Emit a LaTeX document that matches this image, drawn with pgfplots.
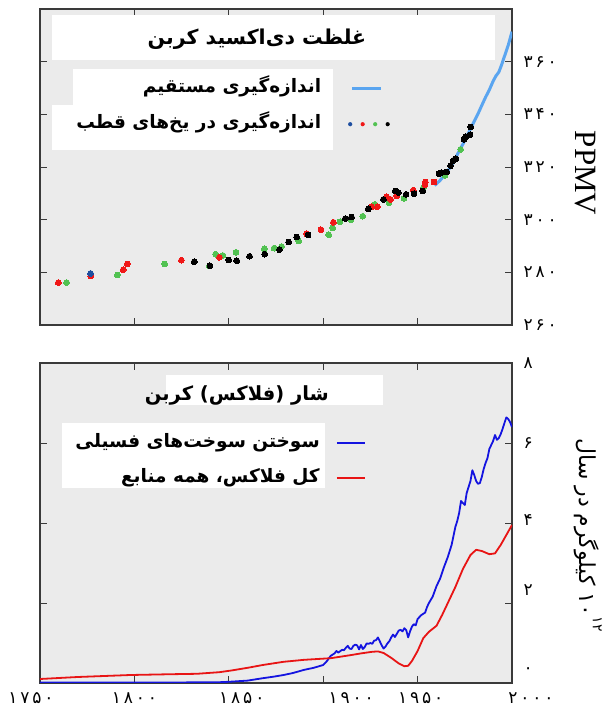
\documentclass[border=0pt]{standalone}
\usepackage{pgfplots}
\pgfplotsset{compat=1.18}
\usepackage{fontspec}
\setmainfont{Liberation Serif}
\TeXXeTstate=1
\newfontfamily\fa[Script=Arabic]{DejaVu Sans}
\newfontfamily\fadig[Script=Arabic, LetterSpace=17]{DejaVu Sans}
\definecolor{bg}{HTML}{EBEBEB}
\definecolor{frame}{HTML}{3A3A3A}
\definecolor{mlblue}{HTML}{5AA5F0}
\definecolor{icblue}{HTML}{1F4FA0}
\definecolor{icred}{HTML}{F01818}
\definecolor{icgreen}{HTML}{52C252}
\definecolor{ffblue}{HTML}{1414E0}
\definecolor{totred}{HTML}{E81414}
% shifted tick labels (as in the reference)
\newcommand\xs[2]{\makebox[0pt]{\kern#1\kern#1#2}}
\newcommand\ys[2]{\raisebox{\dimexpr#1-5.5pt\relax}[0pt][0pt]{#2}}

\pgfplotstableread{
year ppm
1776.8 279.6
}\iceblue
\pgfplotstableread{
year ppm
1759.7 276.1
1776.8 278.6
1794.1 281.0
1796.3 283.2
1824.9 284.6
1845.0 285.7
1891.2 294.6
1898.8 296.2
1905.4 299.0
1925.7 304.9
1928.7 304.9
1933.6 308.7
1935.7 307.7
1938.9 309.0
1947.7 311.2
1954.1 314.3
1953.9 313.3
1958.7 314.3
}\icered
\pgfplotstableread{
year ppm
1764.1 276.1
1791.0 279.0
1816.0 283.2
1839.7 282.4
1843.0 286.9
1846.9 286.4
1853.8 287.6
1868.8 288.9
1874.0 289.2
1878.0 289.8
1887.0 291.9
1902.9 294.3
1905.0 296.9
1908.9 299.2
1914.7 300.0
1920.9 301.3
1927.4 305.8
1934.9 306.4
1942.8 308.1
1953.0 312.1
1964.5 316.8
1972.8 326.7
}\icegreen
\pgfplotstableread{
year ppm
1831.7 284.0
1840.0 282.5
1849.9 284.7
1854.2 284.4
1861.0 286.1
1869.0 286.9
1876.8 288.6
1881.7 291.5
1886.0 293.4
1892.0 294.2
1911.7 300.4
1915.0 301.0
1923.9 304.1
1931.9 307.7
1938.2 310.9
1939.8 310.3
1943.9 309.6
1948.1 309.9
1952.7 310.9
1961.3 317.5
1962.7 317.9
1965.4 318.1
1967.5 320.5
1968.9 322.5
1970.3 323.2
1974.6 330.5
1975.5 331.5
1977.8 332.2
1978.1 335.2
}\iceblack
\pgfplotstableread{
year ppm
1959.0 313.0
1960.0 313.6
1962.0 315.0
1964.0 316.7
1966.0 318.6
1968.0 320.6
1970.0 323.3
1972.0 326.0
1974.0 328.7
1976.0 331.5
1978.0 334.4
1980.0 337.4
1982.0 340.2
1984.0 343.4
1986.0 346.5
1988.0 349.3
1990.0 352.6
1991.5 354.6
1993.0 356.0
1994.5 358.8
1996.0 362.0
1998.0 366.2
2000.0 371.4
}\mauna
\pgfplotstableread{
year v
1750 0.01
1780 0.01
1800 0.01
1820 0.01
1835 0.02
1845 0.02
1850 0.03
1860 0.06
1868 0.12
1874 0.16
1879 0.20
1884 0.25
1890 0.33
1895 0.38
1900 0.45
1902 0.55
1904 0.68
1906 0.74
1907 0.80
1908 0.76
1910 0.83
1911 0.82
1912 0.88
1913 0.93
1914 0.86
1915 0.85
1916 0.93
1917 0.96
1918 0.94
1919 0.84
1920 0.95
1921 0.85
1922 0.90
1923 0.99
1924 0.98
1925 1.00
1926 0.98
1927 1.06
1928 1.07
1929 1.14
1930 1.04
1931 0.94
1932 0.86
1933 0.91
1934 0.99
1935 1.04
1936 1.14
1937 1.21
1938 1.15
1939 1.23
1940 1.31
1941 1.33
1942 1.29
1943 1.37
1944 1.32
1945 1.14
1946 1.29
1947 1.41
1948 1.47
1949 1.44
1950 1.60
1952 1.70
1954 1.76
1955 1.90
1956 2.00
1958 2.16
1960 2.42
1962 2.62
1964 2.90
1966 3.15
1968 3.45
1970 3.90
1971 4.05
1972 4.25
1973 4.55
1974 4.50
1975 4.45
1976 4.75
1977 4.90
1978 5.05
1979 5.32
1980 5.20
1981 5.05
1982 4.98
1983 5.00
1984 5.15
1985 5.35
1986 5.50
1987 5.62
1988 5.85
1989 5.95
1990 6.05
1991 6.20
1992 6.08
1993 6.12
1994 6.22
1995 6.35
1996 6.50
1997 6.64
1998 6.60
1999 6.52
2000 6.40
}\fossil
\pgfplotstableread{
year v
1750 0.10
1770 0.15
1798 0.20
1820 0.22
1833 0.23
1845 0.27
1851 0.31
1860 0.38
1868 0.45
1879 0.53
1890 0.58
1904 0.62
1915 0.70
1920 0.74
1926 0.78
1929 0.79
1932 0.75
1936 0.63
1940 0.49
1943 0.42
1945 0.43
1947 0.55
1950 0.80
1953 1.12
1956 1.28
1960 1.43
1963 1.70
1966 2.00
1970 2.40
1974 2.85
1978 3.20
1981 3.33
1984 3.30
1988 3.22
1991 3.24
1994 3.45
1997 3.70
2000 3.95
}\total

\pgfplotsset{
  panel/.style={
    scale only axis, width=472pt,
    xmin=1750, xmax=2000,
    axis background/.style={fill=bg},
    axis line style={draw=frame, line width=1.3pt},
    tick style={draw=frame, line width=0.9pt},
    major tick length=7pt,
    tick align=inside,
    yticklabel pos=right,
    xtick pos=both, ytick pos=both,
    ticklabel style={font=\fadig\fontsize{17}{17}\selectfont, text=black},
    yticklabel style={xshift=8pt},
    xticklabel style={yshift=-6pt},
    clip=true,
  },
  icedot/.style={only marks, mark=*, mark size=2.9pt, forget plot,
    mark options={draw=#1, fill=#1, line width=0pt}},
}

\begin{document}
\begin{tikzpicture}
\useasboundingbox (-40pt,-24pt) rectangle (568pt,683pt);

% ---------------- top panel ----------------
\begin{axis}[panel,
  at={(0pt,358pt)}, anchor=south west, height=316pt,
  ymin=260, ymax=380,
  ytick={260,280,300,320,340,360},
  yticklabels={\ys{0pt}{۲۶۰},\ys{0pt}{۲۸۰},\ys{0pt}{۳۰۰},\ys{0pt}{۳۲۰},\ys{0pt}{۳۴۰},\ys{0pt}{۳۶۰}},
  xtick={1800,1850,1900,1950}, xticklabels={},
  legend plot pos=right,
  legend cell align=right,
  legend style={at={(rel axis cs:0.7415,0.7785)}, anchor=north east,
    draw=none, fill=none, inner sep=0pt,
    nodes={inner sep=0pt, text height=13pt, text depth=5pt},
    /tikz/column sep=26pt, /tikz/row sep=18pt,
    font=\fa\bfseries\fontsize{18.5}{18.5}\selectfont},
]
\addplot[mlblue, line width=3pt, line join=round,
  legend image code/.code={\path[draw=none] (0pt,0pt) -- (42pt,0pt); \draw[mlblue, line width=3pt] (5pt,0pt) -- (34pt,0pt);}]
  table[x=year,y=ppm]{\mauna};
\addlegendentry{\beginR اندازه^^^^200cگیری مستقیم\endR}
\addplot[icedot=icgreen] table[x=year,y=ppm]{\icegreen};
\addplot[icedot=icred] table[x=year,y=ppm]{\icered};
\addplot[icedot=icblue] table[x=year,y=ppm]{\iceblue};
\addplot[icedot=black] table[x=year,y=ppm]{\iceblack};
\addlegendimage{draw=none, legend image code/.code={
  \path[draw=none] (0pt,0pt) -- (42pt,0pt);
  \fill[icblue, draw=none] (3pt,0pt) circle (2.1pt);
  \fill[icred, draw=none] (15.5pt,0pt) circle (2.1pt);
  \fill[icgreen, draw=none] (28pt,0pt) circle (2.1pt);
  \fill[black, draw=none] (40.5pt,0pt) circle (2.1pt);}}
\addlegendentry{\beginR اندازه^^^^200cگیری در یخ^^^^200cهای قطب\endR}
% white boxes
\fill[white] (rel axis cs:0.0254,0.8386) rectangle (rel axis cs:0.9640,0.981);
\fill[white] (rel axis cs:0.0699,0.6962) rectangle (rel axis cs:0.6208,0.8101);
\fill[white] (rel axis cs:0.0254,0.5538) rectangle (rel axis cs:0.6208,0.6962);
\node[font=\fa\bfseries\fontsize{20.5}{20.5}\selectfont] at (rel axis cs:0.4597,0.905) {\beginR غلظت دی^^^^200cاکسید کربن\endR};
\end{axis}

% ---------------- bottom panel ----------------
\begin{axis}[panel,
  at={(0pt,0pt)}, anchor=south west, height=320pt,
  ymin=0, ymax=8,
  ytick={0,2,4,6,8},
  yticklabels={\ys{15pt}{۰},\ys{13pt}{۲},\ys{3pt}{۴},\ys{0pt}{۶},\ys{0pt}{۸}},
  xtick={1750,1800,1850,1900,1950,2000},
  xticklabels={\xs{-9pt}{۱۷۵۰},\xs{0pt}{۱۸۰۰},\xs{13pt}{۱۸۵۰},\xs{28pt}{۱۹۰۰},\xs{3pt}{۱۹۵۰},\xs{19pt}{۲۰۰۰}},
  legend plot pos=right,
  legend cell align=right,
  legend style={at={(rel axis cs:0.697,0.778)}, anchor=north east,
    draw=none, fill=none, inner sep=0pt,
    nodes={inner sep=0pt, text height=13pt, text depth=5pt},
    /tikz/column sep=13pt, /tikz/row sep=17pt,
    font=\fa\bfseries\fontsize{18.5}{18.5}\selectfont},
]
\addplot[ffblue, line width=1.8pt, line join=round,
  legend image code/.code={\path[draw=none] (0pt,0pt) -- (36pt,0pt); \draw[ffblue, line width=1.8pt] (4pt,0pt) -- (32pt,0pt);}]
  table[x=year,y=v]{\fossil};
\addlegendentry{\beginR سوختن سوخت^^^^200cهای فسیلی\endR}
\addplot[totred, line width=1.8pt, line join=round,
  legend image code/.code={\path[draw=none] (0pt,0pt) -- (36pt,0pt); \draw[totred, line width=1.8pt] (4pt,0pt) -- (32pt,0pt);}]
  table[x=year,y=v]{\total};
\addlegendentry{\beginR کل فلاکس، همه منابع\endR}
\fill[white] (rel axis cs:0.2669,0.8688) rectangle (rel axis cs:0.7267,0.9625);
\fill[white] (rel axis cs:0.0466,0.6094) rectangle (rel axis cs:0.6038,0.8125);
\node[font=\fa\bfseries\fontsize{19.5}{19.5}\selectfont] at (rel axis cs:0.417,0.90) {\beginR شار (فلاکس) کربن\endR};
\end{axis}

% axis labels
\node[rotate=-90, font=\fontsize{31}{31}\selectfont] at (545pt,510pt) {PPMV};
\node[rotate=-90, font=\fa\fontsize{22}{22}\selectfont] at (548pt,148pt)
  {\beginR\beginL ۱۰\raisebox{1.1ex}{\fontsize{14}{14}\selectfont ۱۲}\endL{} کیلوگرم در سال\endR};
\end{tikzpicture}
\end{document}
